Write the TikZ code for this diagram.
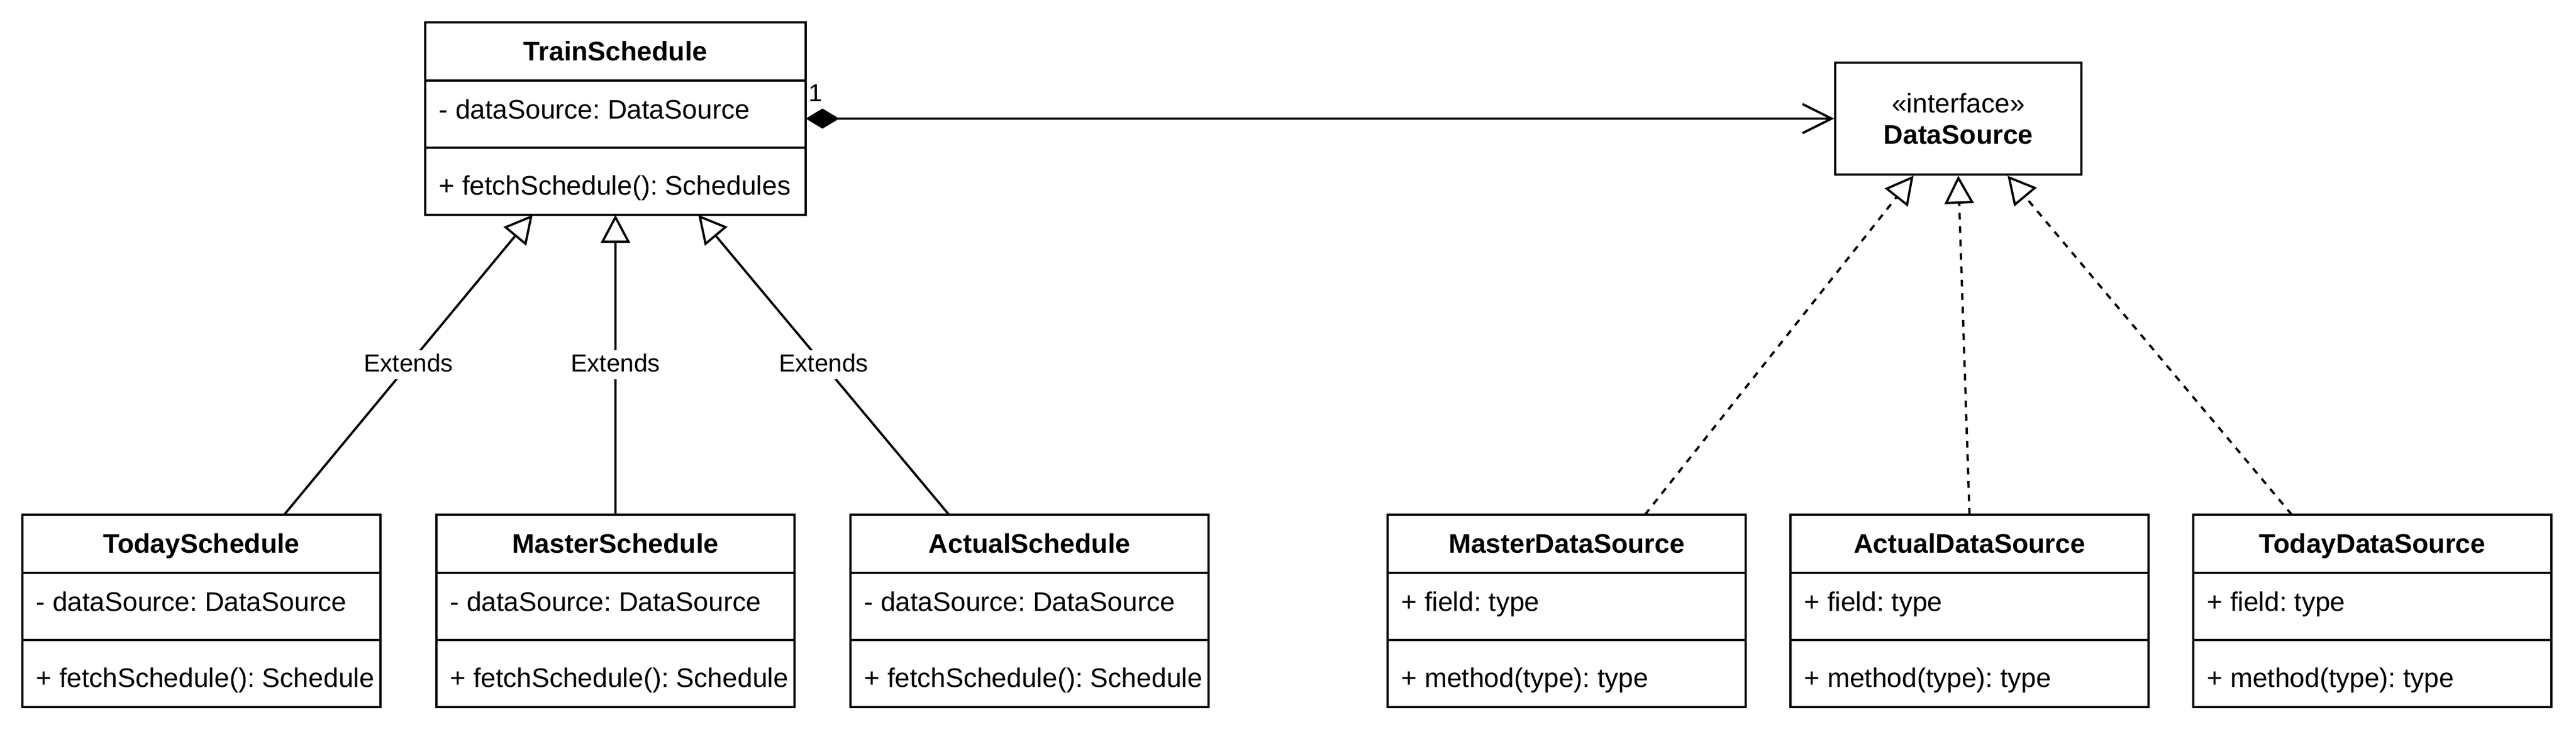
\documentclass[tikz,border=0pt]{standalone}
\usepackage{fontspec}
\setmainfont{Liberation Sans}
\usetikzlibrary{arrows.meta}
\frenchspacing

\begin{document}
\begin{tikzpicture}[x=1pt,y=-1pt,
	class/.style={draw,line width=1pt,minimum width=160pt,minimum height=86pt,inner sep=0pt,outer sep=0pt,anchor=north west},
	cname/.style={font=\fontsize{12}{14}\selectfont\bfseries,inner sep=0pt,text height=8.3pt,text depth=0pt},
	member/.style={font=\fontsize{12}{14}\selectfont,anchor=west,inner sep=0pt,text height=8.3pt,text depth=0pt},
	extends/.style={line width=1pt,-{Triangle[open,length=12.5pt,width=13pt]}},
	realizes/.style={extends,dash pattern=on 3pt off 3pt},
	lbl/.style={fill=white,font=\fontsize{11}{13}\selectfont,inner sep=1.5pt,text height=8pt,text depth=2pt}]
	\useasboundingbox (0,0) rectangle (1151,330);

	% parent class
	\node[class,minimum width=170pt] (train) at (190,10) {};
	\node[cname] (train-name) at ([yshift=-13pt]train.north) {TrainSchedule};
	\node[member] (train-field) at ([xshift=6pt,yshift=-39pt]train.north west) {- dataSource: DataSource};
	\node[member] (train-method) at ([xshift=6pt,yshift=-73pt]train.north west) {+ fetchSchedule(): Schedules};
	\draw[line width=1pt] ([yshift=-26pt]train.north west) -- ([yshift=-26pt]train.north east);
	\draw[line width=1pt] ([yshift=-56pt]train.north west) -- ([yshift=-56pt]train.north east);

	% interface
	\node[draw,line width=1pt,minimum width=110pt,minimum height=50pt,inner sep=0pt,align=center,
		font=\fontsize{12}{14}\selectfont] (iface) at (875,53) {«interface»\\\textbf{DataSource}};

	% subclasses and implementations
	\foreach \n/\x/\t/\f/\m in {
		today/10/TodaySchedule/{- dataSource: DataSource}/{+ fetchSchedule(): Schedule},
		master/195/MasterSchedule/{- dataSource: DataSource}/{+ fetchSchedule(): Schedule},
		actual/380/ActualSchedule/{- dataSource: DataSource}/{+ fetchSchedule(): Schedule},
		mds/620/MasterDataSource/{+ field: type}/{+ method(type): type},
		ads/800/ActualDataSource/{+ field: type}/{+ method(type): type},
		tds/980/TodayDataSource/{+ field: type}/{+ method(type): type}}
	{
		\node[class] (\n) at (\x,230) {};
		\node[cname] (\n-name) at ([yshift=-13pt]\n.north) {\t};
		\node[member] (\n-field) at ([xshift=6pt,yshift=-39pt]\n.north west) {\f};
		\node[member] (\n-method) at ([xshift=6pt,yshift=-73pt]\n.north west) {\m};
		\draw[line width=1pt] ([yshift=-26pt]\n.north west) -- ([yshift=-26pt]\n.north east);
		\draw[line width=1pt] ([yshift=-56pt]\n.north west) -- ([yshift=-56pt]\n.north east);
	}

	% composition
	\draw[line width=1pt,{Diamond[length=15pt,width=9pt]}-{Straight Barb[length=13pt,width=13pt]}] (train.east) -- (iface.west);
	\node[font=\fontsize{11}{13}\selectfont,inner sep=0pt,text height=7.9pt,text depth=0pt] (one) at ([xshift=4.5pt,yshift=11.7pt]train.east) {1};

	% inheritance
	\draw[extends] ([xshift=37pt]today.north) -- ([xshift=-37pt]train.south) node[lbl,midway] (ext1) {Extends};
	\draw[extends] (master.north) -- (train.south) node[lbl,midway] (ext2) {Extends};
	\draw[extends] ([xshift=-36pt]actual.north) -- ([xshift=37pt]train.south) node[lbl,midway] (ext3) {Extends};

	% realization
	\draw[realizes] ([xshift=35pt]mds.north) -- ([xshift=-20pt]iface.south);
	\draw[realizes] (ads.north) -- (iface.south);
	\draw[realizes] ([xshift=-36pt]tds.north) -- ([xshift=22pt]iface.south);
\end{tikzpicture}
\end{document}
